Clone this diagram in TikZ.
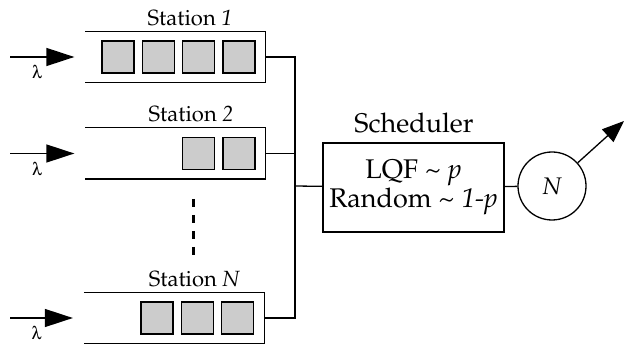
\documentclass[tikz,border=0pt]{standalone}
\usepackage[T1]{fontenc}
\usepackage{mathpazo}
\usepackage[Symbol]{upgreek}
\usetikzlibrary{positioning,arrows.meta}
\begin{document}
\begin{tikzpicture}[x=1pt, y=-1pt, line width=1.3pt, node distance={7pt},
  queue/.style = {minimum width=179pt, minimum height=50pt, inner sep=0pt},
  pkt/.style = {draw, fill=black!20, minimum size=32pt, inner sep=0pt},
  inflow/.style = {-{Triangle[length=28pt, width=18pt]}, shorten >=11pt},
  rate/.style = {pos=0.36, below=8pt, inner sep=0pt, font=\fontsize{18}{20}\selectfont},
  lbl/.style = {font=\fontsize{22}{24}\selectfont, anchor=base, inner sep=0pt},
  big/.style = {font=\fontsize{27}{29}\selectfont}]
\useasboundingbox (0,0) rectangle (626,347);

% stations
\node[queue] (1) at (175.5,57) {};
\node[queue] (2) at (175.5,153.5) {};
\node[queue] (3) at (174,318) {};
\draw (1.north west) -- (1.north east) -- (1.south east) -- (1.south west);
\draw (2.north west) -- (2.north east) -- (2.south east) -- (2.south west);
\draw (3.north west) -- (3.north east) -- (3.south east) -- (3.south west);

\node[lbl] (t1) at (190,26) {Station \textit{1}};
\node[lbl] (t2) at (191,122) {Station \textit{2}};
\node[lbl] (t3) at (194.5,287) {Station \textit{N}};

% packets
\node[pkt] (1d) [left=10pt of 1.east] {};
\node[pkt] (1c) [left=of 1d] {};
\node[pkt] (1b) [left=of 1c] {};
\node[pkt] (1a) [left=of 1b] {};
\node[pkt] (2b) [left=10pt of 2.east] {};
\node[pkt] (2a) [left=of 2b] {};
\node[pkt] (3c) [left=10pt of 3.east] {};
\node[pkt] (3b) [left=of 3c] {};
\node[pkt] (3a) [left=of 3b] {};

% arrivals
\coordinate (i1) at (10,57);
\coordinate (i2) at (10,153.5);
\coordinate (i3) at (10,318);
\draw[inflow] (i1) -- node[rate] {$\uplambda$} (1);
\draw[inflow] (i2) -- node[rate] {$\uplambda$} (2);
\draw[inflow] (i3) -- node[rate] {$\uplambda$} (3);

% dots
\coordinate (d1) at (193,199);
\coordinate (d2) at (193,255);
\draw[line width=3pt, dash pattern=on 8pt off 8pt] (d1) -- (d2);

% bus
\coordinate (b1) at (295,57);
\coordinate (b2) at (295,153.5);
\coordinate (b3) at (295,318);
\coordinate (bj) at (295,186);
\draw (1) -- (b1) -- (b3) -- (3);
\draw (2) -- (b2);

% scheduler and server
\node[draw, big, minimum width=181pt, minimum height=89pt, align=center, inner sep=0pt] (s) at (413.5,187.5) {LQF \textasciitilde{} \textit{p}\\Random \textasciitilde{} \textit{1-p}};
\node[lbl, font=\fontsize{27}{29}\selectfont] (ts) at (414,133) {Scheduler};
\node[draw, circle, minimum size=68pt, inner sep=0pt, font=\fontsize{24}{26}\selectfont] (n) at (552,186) {$N$};
\coordinate (o) at (624,121);
\draw (bj) -- (s);
\draw (s) -- (n);
\draw[-{Triangle[length=22pt, width=17pt]}] (n) -- (o);
\end{tikzpicture}
\end{document}
